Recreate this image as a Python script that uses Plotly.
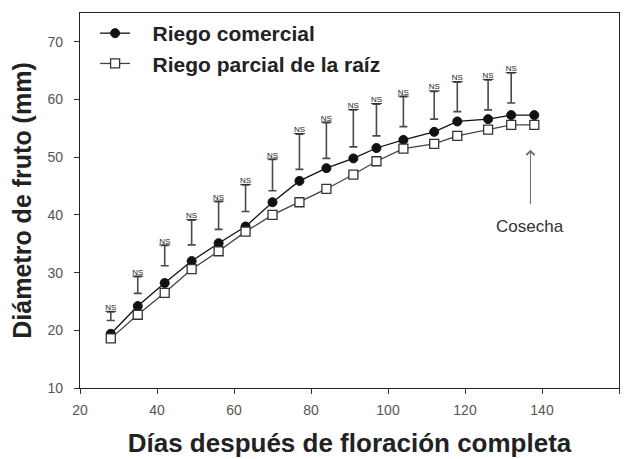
import plotly.graph_objects as go

# ---- data ----
days = [28, 35, 42, 49, 56, 63, 70, 77, 84, 91, 97, 104, 112, 118, 126, 132, 138]
commercial = [19.4, 24.2, 28.2, 32.0, 35.1, 38.0, 42.2, 45.9, 48.1, 49.8, 51.6, 53.0, 54.4, 56.2, 56.6, 57.3, 57.3]
partial = [18.6, 22.7, 26.5, 30.6, 33.7, 37.1, 40.0, 42.2, 44.5, 47.0, 49.3, 51.5, 52.3, 53.7, 54.8, 55.6, 55.6]
bar_days = days[:-1]
bar_low = [21.7, 26.4, 31.2, 34.8, 37.5, 40.6, 44.2, 47.9, 49.8, 51.8, 53.7, 55.3, 56.6, 57.9, 58.2, 59.4]
bar_high = [23.2, 29.3, 34.7, 39.1, 42.3, 45.2, 49.6, 54.0, 56.0, 58.2, 59.2, 60.5, 61.4, 63.0, 63.4, 64.6]
bar_label = "NS"
harvest_day = 137
harvest_tip, harvest_tail = 51.3, 41.6
harvest_label = "Cosecha"
series_names = ["Riego comercial", "Riego parcial de la raíz"]
x_ticks = [20, 40, 60, 80, 100, 120, 140, 160]
y_ticks = [10, 20, 30, 40, 50, 60, 70]

FONT = "Liberation Sans, Arial, sans-serif"
NB = "\u00a0"

mid = [(a + b) / 2 for a, b in zip(bar_low, bar_high)]
half = [(b - a) / 2 for a, b in zip(bar_low, bar_high)]

fig = go.Figure()

# floating NS bars
fig.add_trace(go.Scatter(
    x=bar_days, y=mid, mode="markers",
    marker=dict(size=0.1, color="rgba(0,0,0,0)"),
    error_y=dict(type="data", array=half, symmetric=True,
                 color="#4a4a4a", thickness=1.6, width=4),
    showlegend=False, hoverinfo="skip"))

fig.add_trace(go.Scatter(
    x=bar_days, y=bar_high, mode="text", text=["<u>" + bar_label + "</u>"] * len(bar_days),
    textposition="top center",
    textfont=dict(family=FONT, size=8, color="#222"),
    showlegend=False, hoverinfo="skip"))

fig.add_trace(go.Scatter(
    x=days, y=commercial, mode="lines+markers", name=NB * 3 + series_names[0],
    line=dict(color="#111", width=1.3),
    marker=dict(symbol="circle", size=9, color="#111", line=dict(color="#111", width=1))))

fig.add_trace(go.Scatter(
    x=days, y=partial, mode="lines+markers", name=NB * 3 + series_names[1],
    line=dict(color="#444", width=1.3),
    marker=dict(symbol="square", size=9, color="white", line=dict(color="#333", width=1.3))))

fig.add_annotation(
    x=harvest_day, y=harvest_tip, ax=harvest_day, ay=harvest_tail,
    xref="x", yref="y", axref="x", ayref="y",
    text="", showarrow=True, arrowhead=4, arrowsize=1.6, arrowwidth=1, arrowcolor="#666")
fig.add_annotation(
    x=harvest_day, y=harvest_tail, xref="x", yref="y", yanchor="top", yshift=-9,
    text=harvest_label, showarrow=False,
    font=dict(family=FONT, size=17, color="#333"))

fig.update_layout(
    width=622, height=451,
    margin=dict(l=72, r=11, t=5, b=71),
    paper_bgcolor="white", plot_bgcolor="white",
    font=dict(family=FONT, color="#222"),
    legend=dict(x=0.028, y=1.0, xanchor="left", yanchor="top",
                bgcolor="rgba(0,0,0,0)", font=dict(family=FONT, size=21, color="#222", weight="bold"),
                tracegroupgap=0, itemwidth=30),
    showlegend=True,
)

fig.update_xaxes(
    range=[20, 160], tickvals=x_ticks, ticks="outside", ticklen=5, tickcolor="#333",
    showline=True, linecolor="#222", linewidth=1.2, mirror=True, showgrid=False, zeroline=False,
    automargin=False, ticklabelstandoff=4,
    tickfont=dict(family=FONT, size=14, color="#555"),
    title=dict(text="Días después de floración completa",
               font=dict(family=FONT, size=26, color="#222", weight="bold"), standoff=16))
fig.update_yaxes(
    range=[10, 75], tickvals=y_ticks, ticks="outside", ticklen=5, tickcolor="#333",
    showline=True, linecolor="#222", linewidth=1.2, mirror=True, showgrid=False, zeroline=False,
    automargin=False, ticklabelstandoff=8,
    tickfont=dict(family=FONT, size=14, color="#555"),
    title=dict(text="Diámetro de fruto (mm)",
               font=dict(family=FONT, size=25, color="#222", weight="bold"), standoff=10))

fig.write_html("out.html")
